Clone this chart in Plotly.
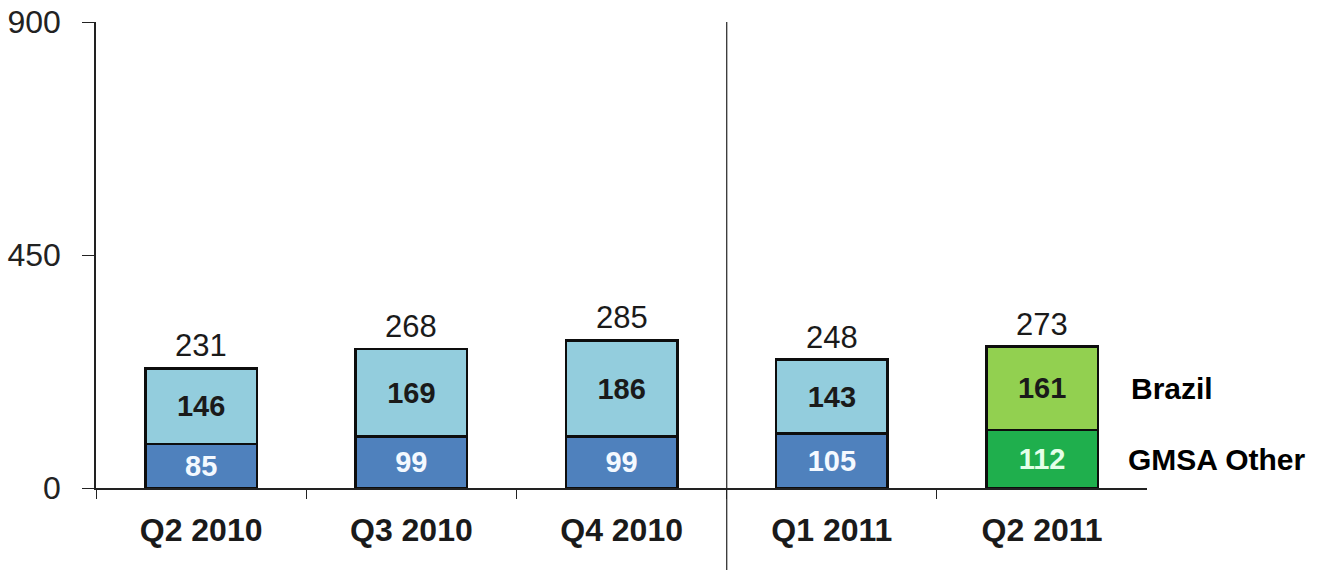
import plotly.graph_objects as go

quarters = ["Q2 2010", "Q3 2010", "Q4 2010", "Q1 2011", "Q2 2011"]
gmsa_other = [85, 99, 99, 105, 112]
brazil = [146, 169, 186, 143, 161]
totals = [a + b for a, b in zip(gmsa_other, brazil)]
y_ticks = [0, 450, 900]

FONT = "Liberation Sans, Arial, sans-serif"

lower_colors = ["#4F81BD"] * 4 + ["#1FAF4D"]
upper_colors = ["#93CDDD"] * 4 + ["#92D050"]
lower_text = ["#F4F9FF"] * 4 + ["#E4FFE8"]

fig = go.Figure()

fig.add_trace(go.Bar(
    x=quarters, y=gmsa_other, name="GMSA Other",
    marker=dict(color=lower_colors, line=dict(color="#0D0D0D", width=2.5)),
    text=[str(v) for v in gmsa_other], textposition="inside",
    insidetextanchor="middle", textangle=0, constraintext="none",
    insidetextfont=dict(family=FONT, size=29, color=lower_text, weight="bold"),
    width=0.53, showlegend=False,
))
fig.add_trace(go.Bar(
    x=quarters, y=brazil, name="Brazil",
    marker=dict(color=upper_colors, line=dict(color="#0D0D0D", width=2.5)),
    text=[str(v) for v in brazil], textposition="inside",
    insidetextanchor="middle", textangle=0, constraintext="none",
    insidetextfont=dict(family=FONT, size=29, color="#1A1A1A", weight="bold"),
    width=0.53, showlegend=False,
))

# totals above each stack
for q, t in zip(quarters, totals):
    fig.add_annotation(
        x=q, y=t, text=str(t), showarrow=False, yanchor="bottom", yshift=3,
        font=dict(family=FONT, size=31, color="#1A1A1A"),
    )

# series names beside the last stack
fig.add_annotation(
    x=0.983, xref="paper", y=gmsa_other[-1] + brazil[-1] / 2, yref="y",
    text="<b>Brazil</b>", showarrow=False, xanchor="left",
    font=dict(family=FONT, size=30, color="#000000"),
)
fig.add_annotation(
    x=0.98, xref="paper", y=gmsa_other[-1] / 2, yref="y",
    text="<b>GMSA Other</b>", showarrow=False, xanchor="left",
    font=dict(family=FONT, size=30, color="#000000"),
)

# divider between 2010 and 2011 quarters
fig.add_shape(
    type="line", xref="x", yref="paper", x0=2.5, x1=2.5, y0=-0.2, y1=1.0,
    line=dict(color="#222222", width=1.2), layer="above",
)

fig.update_layout(
    barmode="stack",
    width=1326, height=570,
    margin=dict(l=96, r=179, t=22, b=82),
    paper_bgcolor="white", plot_bgcolor="white",
    font=dict(family=FONT, color="#1A1A1A"),
    xaxis=dict(
        range=[-0.5, 4.499], showline=True, linecolor="#222222", linewidth=1.5,
        ticks="outside", tickson="boundaries", ticklen=9, tickcolor="#222222",
        tickwidth=1.2, showgrid=False, zeroline=False, automargin=False,
        tickfont=dict(family=FONT, size=32, color="#1A1A1A", weight="bold"),
        ticklabelstandoff=13,
    ),
    yaxis=dict(
        range=[0, 900], tickvals=y_ticks, ticktext=[str(v) for v in y_ticks],
        showline=True, linecolor="#222222", linewidth=1.5,
        ticks="outside", ticklen=12, tickcolor="#222222", tickwidth=1.2,
        showgrid=False, zeroline=False, automargin=False,
        tickfont=dict(family=FONT, size=32, color="#222222"),
        ticklabelstandoff=15,
    ),
)

fig.write_html("out.html")
